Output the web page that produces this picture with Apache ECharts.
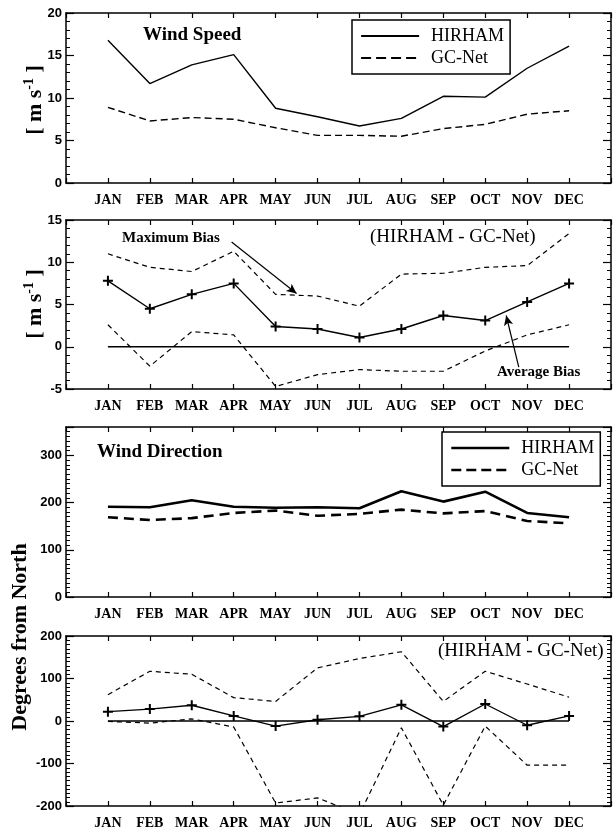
<!DOCTYPE html>
<html>
<head>
<meta charset="utf-8">
<script src="https://cdn.jsdelivr.net/npm/echarts@6/dist/echarts.min.js"></script>
<style>
html, body { margin: 0; padding: 0; background: #fff; }
#chart { width: 614px; height: 830px; }
</style>
</head>
<body>
<div id="chart"></div>
<script>
// months sit at x = 1..12, the axis runs 0..13
var months = ['JAN', 'FEB', 'MAR', 'APR', 'MAY', 'JUN', 'JUL', 'AUG', 'SEP', 'OCT', 'NOV', 'DEC'];

// wind speed [m s-1]
var speedHirham = [16.8, 11.7, 13.9, 15.1, 8.8, 7.8, 6.7, 7.6, 10.2, 10.1, 13.5, 16.1];
var speedGcnet  = [8.9, 7.3, 7.7, 7.5, 6.5, 5.6, 5.6, 5.5, 6.4, 6.9, 8.1, 8.5];

// wind speed bias (HIRHAM - GC-Net)
var speedBiasAvg = [7.8, 4.5, 6.2, 7.5, 2.4, 2.1, 1.1, 2.1, 3.7, 3.1, 5.3, 7.5];
var speedBiasMax = [11.0, 9.4, 8.9, 11.3, 6.2, 6.0, 4.8, 8.6, 8.7, 9.4, 9.6, 13.4];
var speedBiasMin = [2.6, -2.3, 1.8, 1.4, -4.7, -3.3, -2.7, -2.9, -2.9, -0.5, 1.4, 2.6];

// wind direction [degrees from north]
var dirHirham = [191, 190, 205, 191, 189, 190, 188, 224, 202, 223, 178, 169];
var dirGcnet  = [169, 163, 167, 178, 183, 172, 176, 185, 177, 182, 161, 156];

// wind direction bias (HIRHAM - GC-Net)
var dirBiasAvg = [22, 28, 37, 12, -12, 3, 11, 38, -13, 40, -10, 12];
var dirBiasMax = [62, 117, 110, 55, 46, 125, 147, 163, 46, 117, 87, 56];
var dirBiasMin = [-1, -5, 5, -14, -193, -181, -220, -16, -198, -12, -104, -104];

var zeroLine = [0, 0, 0, 0, 0, 0, 0, 0, 0, 0, 0, 0];

// annotation arrows, in data coordinates of the speed bias panel
var maxBiasArrow = [[3.95, 12.4], [5.5, 6.3]];
var avgBiasArrow = [[10.8, -2.4], [10.5, 3.7]];

var serif = '"Liberation Serif", "Times New Roman", serif';
var sans = '"Liberation Sans", Arial, sans-serif';

var grids = [
    { left: 66, width: 548, top: 13, height: 170 },
    { left: 66, width: 548, top: 220, height: 169 },
    { left: 66, width: 548, top: 427, height: 170 },
    { left: 66, width: 548, top: 636, height: 171 }
];
var yRanges = [
    { min: 0, max: 20, interval: 5, minor: 5 },
    { min: -5, max: 15, interval: 5, minor: 5 },
    { min: 0, max: 360, interval: 100, minor: 10 },
    { min: -200, max: 200, interval: 100, minor: 10 }
];

function pts(arr) {
    return arr.map(function (v, i) { return [i + 1, v]; });
}

var xAxis = [];
var yAxis = [];
for (let i = 0; i < 4; i++) {
    ['bottom', 'top'].forEach(function (pos) {
        xAxis.push({
            type: 'value', gridIndex: i, position: pos,
            min: 0, max: 13, interval: 1,
            axisLine: { show: true, onZero: false, lineStyle: { color: '#000', width: 1.5 } },
            axisTick: { show: true, inside: true, length: 5, lineStyle: { color: '#000', width: 1.2 } },
            axisLabel: {
                show: pos === 'bottom', margin: 10, color: '#000',
                fontFamily: serif, fontWeight: 'bold', fontSize: 14,
                formatter: function (v) { return months[v - 1] || ''; }
            },
            splitLine: { show: false }
        });
    });
}
for (let i = 0; i < 4; i++) {
    let r = yRanges[i];
    ['left', 'right'].forEach(function (pos) {
        yAxis.push({
            type: 'value', gridIndex: i, position: pos,
            min: r.min, max: r.max, interval: r.interval,
            axisLine: { show: true, onZero: false, lineStyle: { color: '#000', width: 1.5 } },
            axisTick: { show: true, inside: true, length: 8, lineStyle: { color: '#000', width: 1.2 } },
            minorTick: { show: true, splitNumber: r.minor, length: 4, lineStyle: { color: '#000', width: 1 } },
            axisLabel: {
                show: pos === 'left', margin: 4, color: '#000',
                fontFamily: sans, fontWeight: 'bold', fontSize: 13,
                showMinLabel: true, showMaxLabel: i !== 2
            },
            splitLine: { show: false },
            minorSplitLine: { show: false }
        });
    });
}

function line(name, data, grid, width, dash, extra) {
    let s = {
        type: 'line', name: name, data: pts(data),
        xAxisIndex: grid * 2, yAxisIndex: grid * 2,
        symbol: 'none', showSymbol: false, silent: true,
        lineStyle: { color: '#000', width: width, type: dash || 'solid' },
        itemStyle: { color: '#000' },
        emphasis: { disabled: true },
        z: 3
    };
    return Object.assign(s, extra || {});
}

var plus = 'path://M4,0h2v4h4v2h-4v4h-2v-4h-4v-2h4z';
var plusMarks = { symbol: plus, symbolSize: 10, showSymbol: true };

var arrowStyle = {
    silent: true, symbol: ['none', 'arrow'], symbolSize: [7, 10],
    label: { show: false }, animation: false,
    lineStyle: { color: '#000', type: 'solid', width: 1.2 }
};

var series = [
    line('HIRHAM', speedHirham, 0, 1.4),
    line('GC-Net', speedGcnet, 0, 1.4, [7, 4]),

    line('zero', zeroLine, 1, 1.6),
    line('Average Bias', speedBiasAvg, 1, 1.4, 'solid', Object.assign({
        markLine: Object.assign({
            data: [
                [{ coord: maxBiasArrow[0] }, { coord: maxBiasArrow[1] }],
                [{ coord: avgBiasArrow[0] }, { coord: avgBiasArrow[1] }]
            ]
        }, arrowStyle)
    }, plusMarks)),
    line('Maximum Bias', speedBiasMax, 1, 1.2, [5, 4]),
    line('Minimum Bias', speedBiasMin, 1, 1.2, [5, 4]),

    line('HIRHAM', dirHirham, 2, 2.6),
    line('GC-Net', dirGcnet, 2, 2.6, [10, 6]),

    line('zero', zeroLine, 3, 1.6),
    line('Average Bias', dirBiasAvg, 3, 1.4, 'solid', plusMarks),
    line('Maximum Bias', dirBiasMax, 3, 1.2, [5, 4]),
    line('Minimum Bias', dirBiasMin, 3, 1.2, [5, 4])
];

var noSymbol = { color: 'rgba(0,0,0,0)', borderWidth: 0, opacity: 0 };

function legendBox(left, top, width) {
    return {
        left: left, top: top, orient: 'vertical', selectedMode: false,
        backgroundColor: '#fff', borderColor: '#000', borderWidth: 1.5,
        padding: [7, 6, 7, 8], itemWidth: 58, itemHeight: 18, itemGap: 4,
        textStyle: { fontFamily: serif, fontSize: 18, color: '#000', padding: [0, 0, 0, 7] },
        data: [
            { name: 'HIRHAM', itemStyle: noSymbol, lineStyle: { width: width, type: 'solid', color: '#000' } },
            { name: 'GC-Net', itemStyle: noSymbol, lineStyle: { width: width, type: [10, 5], color: '#000' } }
        ]
    };
}

function label(x, y, text, size, bold) {
    return {
        type: 'text', x: x, y: y, silent: true,
        style: {
            text: text, fill: '#000', fontFamily: serif, fontSize: size,
            fontWeight: bold ? 'bold' : 'normal', verticalAlign: 'middle'
        }
    };
}

function yTitle(x, y, text) {
    return {
        type: 'text', x: x, y: y, rotation: Math.PI / 2, silent: true,
        style: {
            text: text, fill: '#000', fontFamily: serif, fontSize: 22, fontWeight: 'bold',
            align: 'center', verticalAlign: 'middle', lineHeight: 26,
            rich: {
                sup: { fontFamily: serif, fontSize: 14, fontWeight: 'bold', verticalAlign: 'top', lineHeight: 26, padding: [0, 0, 10, 0] }
            }
        }
    };
}

var option = {
    animation: false,
    backgroundColor: '#fff',
    grid: grids,
    xAxis: xAxis,
    yAxis: yAxis,
    legend: [legendBox(352, 20, 2.2), legendBox(442, 432, 2.6)],
    series: series,
    graphic: [
        label(143, 35, 'Wind Speed', 19, true),
        label(97, 452, 'Wind Direction', 19, true),
        label(370, 237, '(HIRHAM - GC-Net)', 19, false),
        label(438, 651, '(HIRHAM - GC-Net)', 19, false),
        label(122, 238, 'Maximum Bias', 15, true),
        label(497, 372, 'Average Bias', 15, true),
        yTitle(35, 100, '[ m s{sup|-1} ]'),
        yTitle(35, 304, '[ m s{sup|-1} ]'),
        yTitle(20, 637, 'Degrees from North')
    ]
};

var mychart = echarts.init(document.getElementById('chart'));
mychart.setOption(option);
</script>
</body>
</html>
